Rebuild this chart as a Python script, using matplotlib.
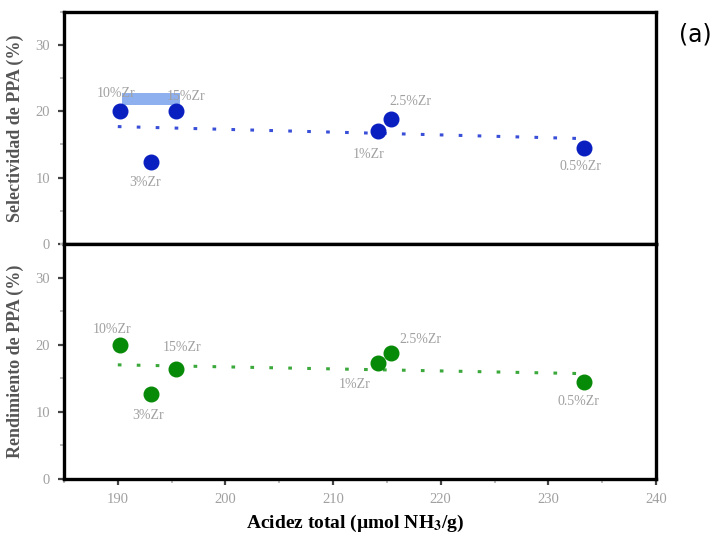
import matplotlib
matplotlib.use("Agg")
import matplotlib.pyplot as plt
from matplotlib.ticker import MultipleLocator

# Acidez total de cada catalizador y su etiqueta
acidez = [190.2, 195.4, 193.1, 214.2, 215.4, 233.3]
etiquetas = ["10%Zr", "15%Zr", "3%Zr", "1%Zr", "2.5%Zr", "0.5%Zr"]

selectividad = [20.0, 20.0, 12.4, 17.1, 18.9, 14.4]
rendimiento = [20.0, 16.4, 12.6, 17.2, 18.8, 14.4]

# posicion de las etiquetas (x, y) en cada panel
etq_sel_x = [189.8, 196.3, 192.5, 213.3, 217.2, 233.0]
etq_sel_y = [22.7, 22.3, 9.2, 13.5, 21.5, 11.7]
etq_ren_x = [189.5, 196.0, 192.8, 212.0, 218.1, 232.8]
etq_ren_y = [22.3, 19.6, 9.4, 14.0, 20.7, 11.5]

# lineas de tendencia
tend_x = [190.0, 233.0]
tend_sel = [17.7, 15.9]
tend_ren = [17.0, 15.7]

# recuadro resaltado entre 10%Zr y 15%Zr
caja_x = [190.4, 195.8]
caja_y = [21.0, 22.8]

plt.rcParams["font.family"] = ["Liberation Serif", "DejaVu Serif"]
plt.rcParams["mathtext.fontset"] = "stix"

fig = plt.figure(figsize=(7.15, 5.38), dpi=100)
ax1 = fig.add_axes([0.0895, 0.5465, 0.828, 0.4315])
ax2 = fig.add_axes([0.0895, 0.1097, 0.828, 0.4368], sharex=ax1)

azul = "#0a1fc0"
verde = "#078a07"
gris = "#a0a0a0"


def estilo(ax, ylabel):
    ax.set_xlim(185, 240)
    ax.set_ylim(0, 35)
    ax.xaxis.set_major_locator(MultipleLocator(10))
    ax.xaxis.set_minor_locator(MultipleLocator(5))
    ax.yaxis.set_major_locator(MultipleLocator(10))
    ax.yaxis.set_minor_locator(MultipleLocator(5))
    for s in ax.spines.values():
        s.set_linewidth(2.4)
        s.set_color("black")
    ax.tick_params(which="major", length=4, width=1.6, color="#444444",
                   labelcolor=gris, labelsize=10.5, pad=6)
    ax.tick_params(which="minor", length=3, width=1.4, color="#bbbbbb")
    ax.set_ylabel(ylabel, fontsize=13, fontweight="bold", color="#555555",
                  labelpad=8)


ax1.fill_between(caja_x, caja_y[0], caja_y[1], color="#8fb0ee", lw=0)
ax1.plot(tend_x, tend_sel, color="#3a4fd8", lw=2.2, ls=(0, (1.2, 5.0)),
         dash_capstyle="butt")
ax1.plot(acidez, selectividad, "o", color=azul, ms=10.5, ls="none")
for t, x, y in zip(etiquetas, etq_sel_x, etq_sel_y):
    ax1.text(x, y, t, fontsize=10, color=gris, ha="center", va="center")
estilo(ax1, "Selectividad de PPA (%)")
ax1.tick_params(axis="x", which="both", bottom=False, labelbottom=False)

ax2.plot(tend_x, tend_ren, color="#3aa83a", lw=2.2, ls=(0, (1.2, 5.0)),
         dash_capstyle="butt")
ax2.plot(acidez, rendimiento, "o", color=verde, ms=10.5, ls="none")
for t, x, y in zip(etiquetas, etq_ren_x, etq_ren_y):
    ax2.text(x, y, t, fontsize=10, color=gris, ha="center", va="center")
estilo(ax2, "Rendimiento de PPA (%)")

fig.text(0.497, 0.027, r"Acidez total (µmol NH$_\mathbf{3}$/g)",
         fontsize=14, fontweight="bold", ha="center", va="center")
fig.text(0.972, 0.935, "(a)", fontsize=17, family="DejaVu Sans",
         ha="center", va="center")

fig.savefig("out.png", dpi=100)
